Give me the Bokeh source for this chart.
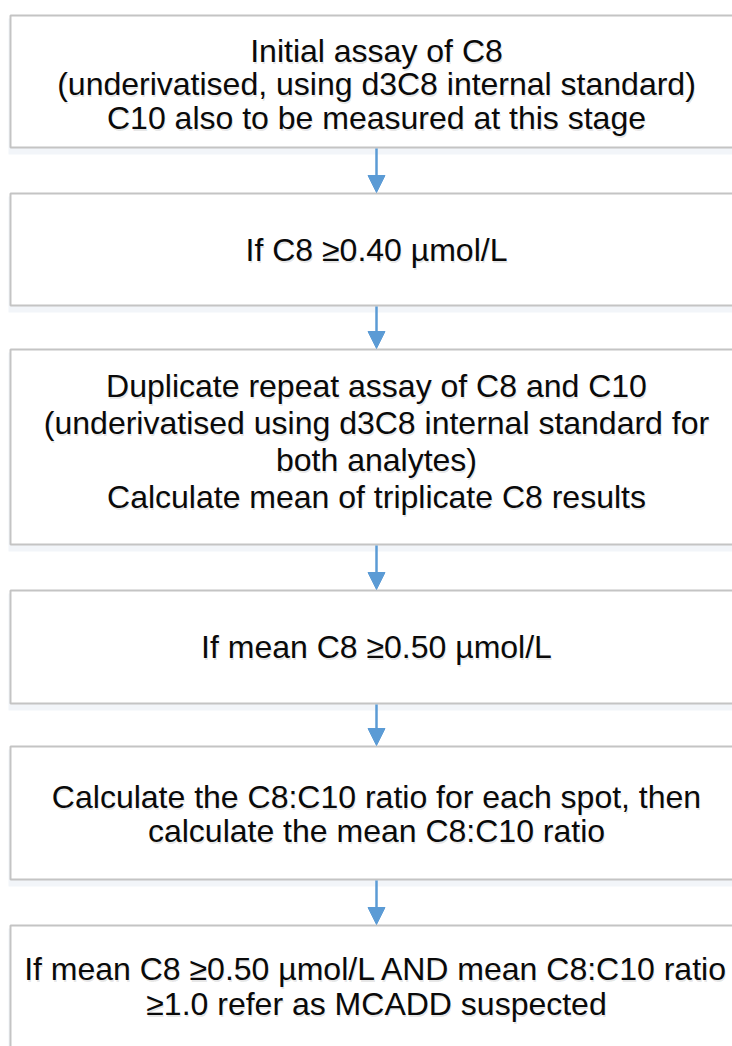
from bokeh.plotting import figure
from bokeh.models import Range1d, ColumnDataSource, Arrow, NormalHead
from bokeh.embed import file_html
from bokeh.resources import INLINE
from bokeh.core.properties import value

# ---- content ----
step_lines = [
    ["Initial assay of C8",
     "(underivatised, using d3C8 internal standard)",
     "C10 also to be measured at this stage"],
    ["If C8 \u22650.40 \u00b5mol/L"],
    ["Duplicate repeat assay of C8 and C10",
     "(underivatised using d3C8 internal standard for",
     "both analytes)",
     "Calculate mean of triplicate C8 results"],
    ["If mean C8 \u22650.50 \u00b5mol/L"],
    ["Calculate the C8:C10 ratio for each spot, then",
     "calculate the mean C8:C10 ratio"],
    ["If mean C8 \u22650.50 \u00b5mol/L AND mean C8:C10 ratio",
     "\u22651.0 refer as MCADD suspected"],
]

# ---- layout (pixel space of the picture) ----
box_top = [15, 193, 349, 590, 746, 925]
box_bottom = [147, 305, 544, 703, 879, 1060]
text_center = [83.5, 249, 441, 646, 813, 985.5]
line_gap = [33.5, 34, 37.3, 34, 34, 35]
box_left, box_right = 10, 742
cx = 376
font_size = "32px"
font = "Liberation Sans"

W, H = 732, 1046
p = figure(width=W, height=H, x_range=Range1d(0, W), y_range=Range1d(H, 0),
           output_backend="svg", toolbar_location=None, min_border=0)
p.axis.visible = False
p.grid.visible = False
p.outline_line_color = None
p.background_fill_color = "white"
p.border_fill_color = "white"

# soft shadow
shadow = ColumnDataSource(dict(left=[box_left - 2] * 6, right=[box_right + 40] * 6,
                               top=[t + 3 for t in box_top], bottom=[b + 7 for b in box_bottom]))
p.quad(left="left", right="right", top="top", bottom="bottom", source=shadow,
       fill_color="#e9eef5", fill_alpha=0.6, line_color=None)

boxes = ColumnDataSource(dict(left=[box_left] * 6, right=[box_right + 40] * 6,
                              top=box_top, bottom=box_bottom))
p.quad(left="left", right="right", top="top", bottom="bottom", source=boxes,
       fill_color="white", line_color="#c4c4c4", line_width=2)

# texts
xs, ys, txt = [], [], []
for i, lines in enumerate(step_lines):
    c = text_center[i]
    n = len(lines)
    for j, t in enumerate(lines):
        xs.append(cx)
        ys.append(c + (j - (n - 1) / 2) * line_gap[i])
        txt.append(t)
tsrc = ColumnDataSource(dict(x=xs, y=ys, text=txt))
p.text(x="x", y="y", text="text", source=tsrc, x_offset=1, y_offset=2,
       text_font=value(font), text_font_size=font_size, text_color="#000000", text_alpha=0.10,
       text_align="center", text_baseline="middle")
p.text(x="x", y="y", text="text", source=tsrc,
       text_font=value(font), text_font_size=font_size, text_color="#0a0a0a",
       text_align="center", text_baseline="middle")

# arrows
for i in range(len(box_top) - 1):
    p.add_layout(Arrow(end=NormalHead(size=17, fill_color="#5B9BD5", line_color="#5B9BD5", line_width=1),
                       x_start=cx, y_start=box_bottom[i] + 1, x_end=cx, y_end=box_top[i + 1] - 1,
                       line_color="#5B9BD5", line_width=2.5))

open("out.html", "w").write(file_html(p, INLINE))
